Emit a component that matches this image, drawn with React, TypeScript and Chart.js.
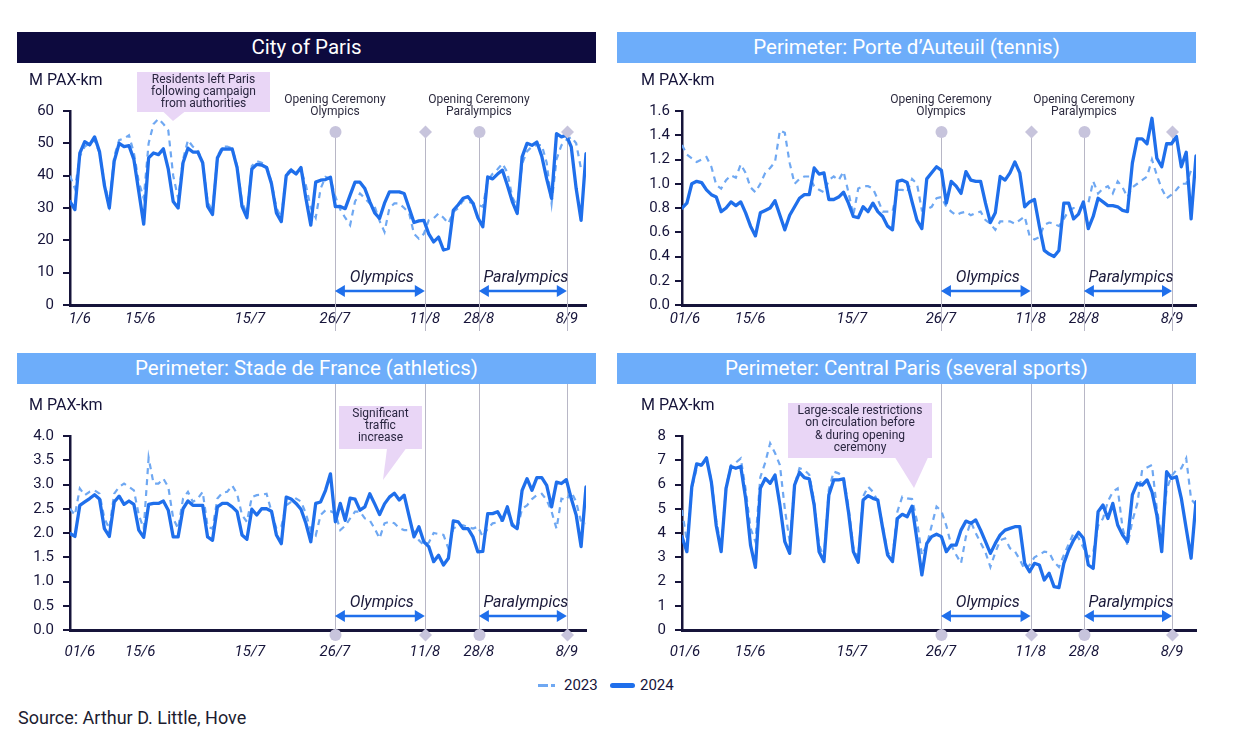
import React, { useEffect, useRef } from 'react';
import { Chart, registerables } from 'chart.js';

Chart.register(...registerables);

const NAVY = '#16143a';
const BLUE = '#1f6feb';
const LIGHT = '#6fa8f2';
const MARK = '#c7c4dc';
const CALLOUT = '#e9d6f6';
const FONT = 'Roboto, "Noto Sans", sans-serif';

// ---- series (daily, 1/6 .. 14/9) ----
const paris2024 = [32, 29.5, 47, 50.5, 49.5, 52, 47.5, 37, 30, 44.5, 50, 49, 49.3, 45, 35, 25, 45.5, 47, 46.5, 48.3, 42, 32, 30, 44, 48.5, 47.3, 47.3, 44, 30.5, 28, 45.5, 48.3, 48.2, 48.3, 42.5, 30.5, 27, 42, 43.5, 43.3, 42.5, 37.5, 28.5, 25.8, 40, 41.7, 40.5, 42.5, 33, 24.7, 38, 38.6, 38.8, 39.5, 30.4, 30.5, 29.8, 34, 38, 38, 36, 32, 28.5, 26.8, 31.5, 35, 35, 35, 34.5, 30, 25.5, 26, 26.2, 22, 19.5, 21, 17, 17.5, 29.3, 31, 33, 33.5, 31.5, 27, 24.2, 39.6, 39, 40.5, 41.7, 37, 32, 28.3, 45.8, 50, 49.4, 50.4, 46, 39, 33, 53, 52, 52.5, 48.9, 36, 26.2, 46.8];
const paris2023 = [40, 36, 46, 49, 50, 51, 47, 38, 31, 46, 51, 51.5, 52.5, 47, 38, 33, 50, 56, 57.6, 56, 54, 40, 33, 45, 51, 49, 48, 44, 32, 29, 46, 49, 49, 48.5, 43, 32, 28, 43, 44.5, 44, 43, 38, 30, 27, 40.5, 42, 41, 42, 37, 30, 27, 36, 39.6, 39, 33.5, 29.5, 27, 24.7, 32, 34.5, 33, 31.4, 30.4, 26, 22.6, 30, 31.4, 31.4, 30, 28.5, 22, 20.5, 22, 26.2, 26.8, 28.3, 27, 25.2, 28.8, 30, 32.4, 32, 31.4, 31, 30.4, 38.6, 40.6, 42, 43.7, 41, 33.4, 30.4, 43.7, 47.5, 49, 49.4, 49.5, 44, 31.4, 45, 49.4, 51, 52, 50, 42, 41];

const auteuil2024 = [0.8, 0.84, 1.0, 1.02, 1.01, 0.95, 0.91, 0.89, 0.77, 0.8, 0.85, 0.82, 0.85, 0.76, 0.65, 0.57, 0.76, 0.78, 0.8, 0.86, 0.74, 0.62, 0.74, 0.81, 0.88, 0.91, 0.91, 1.13, 1.08, 1.09, 0.87, 0.87, 0.89, 0.93, 0.84, 0.73, 0.72, 0.81, 0.77, 0.84, 0.77, 0.73, 0.65, 0.62, 1.02, 1.03, 1.01, 0.85, 0.7, 0.63, 1.04, 1.09, 1.14, 1.11, 0.84, 1.02, 0.98, 0.92, 1.1, 1.03, 1.02, 1.02, 0.84, 0.68, 0.76, 1.06, 1.03, 1.09, 1.18, 1.09, 0.81, 0.85, 0.87, 0.65, 0.45, 0.42, 0.4, 0.45, 0.84, 0.84, 0.71, 0.75, 0.85, 0.63, 0.73, 0.88, 0.85, 0.82, 0.82, 0.81, 0.78, 0.77, 1.17, 1.37, 1.37, 1.33, 1.54, 1.21, 1.14, 1.33, 1.33, 1.39, 1.14, 1.26, 0.71, 1.23];
const auteuil2023 = [1.32, 1.24, 1.21, 1.18, 1.2, 1.22, 1.14, 0.99, 0.96, 1.03, 1.07, 1.05, 1.16, 1.09, 0.97, 0.93, 1.0, 1.09, 1.13, 1.18, 1.44, 1.42, 1.17, 1.0, 1.04, 1.06, 1.06, 0.98, 0.95, 0.93, 1.03, 1.06, 1.03, 1.1, 0.93, 0.74, 0.96, 0.98, 0.98, 0.96, 0.87, 0.77, 0.77, 0.77, 0.95, 0.95, 0.93, 1.04, 1.0, 0.78, 0.79, 0.81, 0.88, 0.89, 0.81, 0.77, 0.74, 0.76, 0.77, 0.74, 0.76, 0.77, 0.7, 0.67, 0.62, 0.69, 0.69, 0.69, 0.67, 0.7, 0.73, 0.57, 0.54, 0.56, 0.66, 0.68, 0.67, 0.65, 0.71, 0.78, 0.8, 0.8, 0.81, 0.84, 1.02, 0.92, 0.96, 0.98, 0.92, 1.02, 0.97, 0.89, 0.97, 1.0, 1.03, 1.06, 1.2, 1.07, 0.96, 0.88, 0.91, 0.95, 1.0, 1.0, 1.11, 1.1];

const stade2024 = [1.99, 1.93, 2.57, 2.64, 2.71, 2.79, 2.7, 2.09, 1.93, 2.64, 2.76, 2.59, 2.66, 2.59, 2.06, 1.91, 2.59, 2.61, 2.61, 2.66, 2.47, 1.92, 1.92, 2.5, 2.66, 2.57, 2.57, 2.57, 1.92, 1.85, 2.54, 2.61, 2.61, 2.54, 2.44, 1.96, 1.87, 2.49, 2.37, 2.5, 2.5, 2.45, 1.96, 1.78, 2.74, 2.7, 2.61, 2.49, 2.2, 1.82, 2.61, 2.64, 2.88, 3.22, 2.23, 2.61, 2.26, 2.72, 2.7, 2.47, 2.54, 2.81, 2.6, 2.38, 2.6, 2.74, 2.82, 2.68, 2.78, 2.35, 1.92, 2.13, 1.82, 1.72, 1.41, 1.54, 1.34, 1.48, 2.25, 2.23, 2.09, 2.09, 1.92, 1.61, 1.62, 2.4, 2.4, 2.44, 2.26, 2.54, 2.16, 2.09, 2.88, 3.12, 2.88, 3.14, 3.14, 2.98, 2.54, 3.05, 3.02, 3.1, 2.71, 2.37, 1.72, 2.95];
const stade2023 = [2.5, 2.37, 2.92, 2.78, 2.85, 2.88, 2.81, 2.3, 2.09, 2.81, 2.95, 3.02, 2.95, 2.88, 2.37, 2.09, 3.55, 3.02, 3.02, 3.12, 2.95, 2.3, 2.09, 2.71, 2.85, 2.64, 2.71, 2.85, 2.13, 2.09, 2.71, 2.83, 2.85, 2.98, 2.81, 2.37, 2.23, 2.74, 2.78, 2.79, 2.81, 2.44, 2.09, 2.13, 2.57, 2.64, 2.71, 2.65, 2.4, 2.05, 1.95, 2.37, 2.47, 2.45, 2.4, 2.06, 2.15, 2.3, 2.44, 2.44, 2.3, 2.26, 2.09, 1.89, 2.2, 2.23, 2.2, 2.1, 2.06, 2.06, 2.03, 1.85, 1.75, 1.8, 2.0, 1.98, 1.96, 1.68, 2.09, 2.16, 2.16, 2.12, 2.09, 2.13, 1.92, 2.09, 2.2, 2.22, 2.26, 2.44, 2.2, 2.09, 2.5, 2.57, 2.7, 2.78, 2.81, 2.68, 2.44, 2.09, 2.71, 2.68, 2.85, 2.64, 2.23, 2.2];

const central2024 = [3.85, 3.23, 5.9, 6.85, 6.8, 7.1, 6.1, 4.3, 3.23, 5.84, 6.74, 6.67, 6.74, 5.43, 3.5, 2.58, 5.84, 6.25, 6.05, 6.39, 5.15, 3.64, 3.16, 5.98, 6.5, 6.28, 6.23, 5.15, 3.23, 2.82, 5.57, 6.19, 6.19, 6.23, 4.88, 3.23, 2.79, 5.36, 5.54, 5.43, 5.36, 4.19, 3.09, 2.82, 4.6, 4.77, 4.67, 5.1, 3.71, 2.27, 3.57, 3.85, 3.95, 3.85, 3.23, 3.5, 3.5, 4.12, 4.49, 4.4, 4.54, 4.12, 3.64, 3.16, 3.57, 3.92, 4.12, 4.19, 4.26, 4.26, 2.75, 2.4, 2.75, 2.68, 2.06, 2.34, 1.79, 1.75, 2.75, 3.3, 3.71, 4.03, 3.78, 2.68, 2.54, 4.88, 5.15, 4.6, 5.22, 4.33, 3.92, 3.64, 5.57, 6.05, 5.98, 6.19, 5.7, 4.74, 3.23, 6.53, 6.25, 6.32, 5.43, 4.19, 2.96, 5.29];
const central2023 = [4.95, 3.64, 5.84, 6.67, 6.8, 7.0, 6.2, 4.5, 3.4, 5.9, 6.8, 6.9, 7.08, 5.8, 4.19, 3.64, 6.3, 6.9, 7.7, 7.3, 6.8, 5.0, 3.64, 6.0, 6.67, 6.6, 6.4, 5.3, 3.5, 3.0, 5.8, 6.53, 6.46, 6.3, 5.1, 3.4, 3.0, 5.5, 5.91, 5.7, 5.3, 4.3, 3.2, 3.0, 4.88, 5.5, 5.43, 5.4, 4.5, 3.09, 3.5, 4.3, 5.09, 4.9, 4.3, 3.5, 3.1, 2.75, 3.85, 4.47, 4.0, 3.6, 3.2, 2.6, 3.2, 3.7, 3.78, 3.37, 3.25, 2.9, 2.5, 2.68, 3.0, 3.1, 3.23, 3.2, 2.8, 2.6, 3.09, 3.55, 4.0, 3.8, 3.4, 3.0, 3.2, 4.3, 4.6, 5.3, 5.7, 5.84, 4.2, 3.5, 4.5, 5.2, 6.6, 6.7, 6.8, 5.0, 3.8, 5.8, 6.35, 6.6, 6.67, 7.08, 5.4, 5.15];

// ---- tick labels and the day-index where each one sits ----
const tickTextParis = ['1/6', '15/6', '15/7', '26/7', '11/8', '28/8', '8/9'];
const tickTextOther = ['01/6', '15/6', '15/7', '26/7', '11/8', '28/8', '8/9'];
const tickIdxLeft = [2, 14.3, 36.6, 53.9, 72.2, 83.2, 101.1];
const tickIdxRight = [0.6, 13.9, 34.7, 52.9, 71.2, 82.1, 100.1];
const eventIdxLeft = [53.9, 72.2, 83.2, 101.1];
const eventIdxRight = [52.9, 71.2, 82.1, 100.1];
const eventShapes = ['circle', 'diamond', 'circle', 'diamond'];

type Callout = { box: number[]; base: number[]; tip: number[]; lines: string[]; ys: number[] };
type Panel = {
  title: string; dark: boolean; left: number; top: number; titleTop: number;
  yMax: number; yStep: number; dec: number; yPad: number;
  d2023: number[]; d2024: number[];
  tickIdx: number[]; tickText: string[]; events: number[];
  markersTop: boolean; yAxisW: number; padRight: number; padTop: number; xAxisH: number; xPad: number;
  callout?: Callout;
};

const panels: Panel[] = [
  {
    title: 'City of Paris', dark: true, left: 17, top: 63, titleTop: 32,
    yMax: 60, yStep: 10, dec: 0, yPad: 9, d2023: paris2023, d2024: paris2024,
    tickIdx: tickIdxLeft, tickText: tickTextParis, events: eventIdxLeft,
    markersTop: true, yAxisW: 53, padRight: 11, padTop: 48, xAxisH: 38, xPad: 5,
    callout: { box: [137, 72, 270, 112], base: [163, 185], tip: [173, 121], lines: ['Residents left Paris', 'following campaign', 'from authorities'], ys: [80, 92, 104] },
  },
  {
    title: 'Perimeter: Porte d\u2019Auteuil (tennis)', dark: false, left: 617, top: 63, titleTop: 32,
    yMax: 1.6, yStep: 0.2, dec: 1, yPad: 5, d2023: auteuil2023, d2024: auteuil2024,
    tickIdx: tickIdxRight, tickText: tickTextOther, events: eventIdxRight,
    markersTop: true, yAxisW: 65, padRight: 1, padTop: 48, xAxisH: 38, xPad: 5,
  },
  {
    title: 'Perimeter: Stade de France (athletics)', dark: false, left: 17, top: 384, titleTop: 353,
    yMax: 4, yStep: 0.5, dec: 1, yPad: 9, d2023: stade2023, d2024: stade2024,
    tickIdx: tickIdxLeft, tickText: tickTextOther, events: eventIdxLeft,
    markersTop: false, yAxisW: 53, padRight: 11, padTop: 52, xAxisH: 34, xPad: 13,
    callout: { box: [339, 406, 422, 449], base: [387, 406], tip: [383, 480], lines: ['Significant', 'traffic', 'increase'], ys: [414, 426, 438] },
  },
  {
    title: 'Perimeter: Central Paris (several sports)', dark: false, left: 617, top: 384, titleTop: 353,
    yMax: 8, yStep: 1, dec: 0, yPad: 9, d2023: central2023, d2024: central2024,
    tickIdx: tickIdxRight, tickText: tickTextOther, events: eventIdxRight,
    markersTop: false, yAxisW: 65, padRight: 1, padTop: 52, xAxisH: 34, xPad: 13,
    callout: { box: [788, 403, 932, 458], base: [895, 928], tip: [914, 488], lines: ['Large-scale restrictions', 'on circulation before', '& during opening', 'ceremony'], ys: [411, 423, 436, 448] },
  },
];

const CW = 580;
const CH = 285;

function drawArrow(ctx: CanvasRenderingContext2D, x0: number, x1: number, y: number) {
  const hl = 10, hw = 6;
  ctx.strokeStyle = BLUE;
  ctx.fillStyle = BLUE;
  ctx.lineWidth = 2.5;
  ctx.beginPath();
  ctx.moveTo(x0 + hl - 1, y);
  ctx.lineTo(x1 - hl + 1, y);
  ctx.stroke();
  ctx.beginPath();
  ctx.moveTo(x0, y);
  ctx.lineTo(x0 + hl, y - hw);
  ctx.lineTo(x0 + hl, y + hw);
  ctx.closePath();
  ctx.fill();
  ctx.beginPath();
  ctx.moveTo(x1, y);
  ctx.lineTo(x1 - hl, y - hw);
  ctx.lineTo(x1 - hl, y + hw);
  ctx.closePath();
  ctx.fill();
}

function PanelChart({ cfg }: { cfg: Panel }) {
  const ref = useRef<HTMLCanvasElement>(null);
  useEffect(() => {
    const annot = {
      id: 'annot',
      beforeDatasetsDraw(chart: any) {
        const { ctx, chartArea: ca } = chart;
        const x = chart.scales.x;
        ctx.save();
        ctx.strokeStyle = '#b8b7c6';
        ctx.lineWidth = 1;
        cfg.events.forEach((idx) => {
          const px = Math.round(x.getPixelForValue(idx)) + 0.5;
          const y0 = cfg.markersTop ? ca.top + 21 : 0;
          const y1 = cfg.markersTop ? ca.bottom + 26 : ca.bottom + 5;
          ctx.beginPath();
          ctx.moveTo(px, y0);
          ctx.lineTo(px, y1);
          ctx.stroke();
        });
        ctx.restore();
      },
      afterDatasetsDraw(chart: any) {
        const { ctx, chartArea: ca } = chart;
        const x = chart.scales.x;
        ctx.save();
        // markers
        const my = cfg.markersTop ? ca.top + 21 : ca.bottom + 5;
        ctx.fillStyle = MARK;
        cfg.events.forEach((idx, k) => {
          const px = Math.round(x.getPixelForValue(idx)) + 0.5;
          ctx.beginPath();
          if (eventShapes[k] === 'circle') {
            ctx.arc(px, my, 6, 0, Math.PI * 2);
          } else {
            ctx.moveTo(px, my - 6.5);
            ctx.lineTo(px + 6.5, my);
            ctx.lineTo(px, my + 6.5);
            ctx.lineTo(px - 6.5, my);
            ctx.closePath();
          }
          ctx.fill();
        });
        // opening-ceremony headers
        if (cfg.markersTop) {
          ctx.fillStyle = '#2d2b3f';
          ctx.font = `12px ${FONT}`;
          ctx.textAlign = 'center';
          ctx.textBaseline = 'middle';
          const p0 = x.getPixelForValue(cfg.events[0]);
          const p2 = x.getPixelForValue(cfg.events[2]);
          ctx.fillText('Opening Ceremony', p0, ca.top - 11);
          ctx.fillText('Olympics', p0, ca.top + 1);
          ctx.fillText('Opening Ceremony', p2, ca.top - 11);
          ctx.fillText('Paralympics', p2, ca.top + 1);
        }
        // arrows
        const e = cfg.events.map((v) => x.getPixelForValue(v));
        drawArrow(ctx, e[0], e[1], ca.bottom - 14);
        drawArrow(ctx, e[2], e[3], ca.bottom - 14);
        ctx.fillStyle = '#1b1a3a';
        ctx.font = `italic 16px ${FONT}`;
        ctx.textAlign = 'center';
        ctx.textBaseline = 'middle';
        ctx.fillText('Olympics', (e[0] + e[1]) / 2 + 2, ca.bottom - 27);
        ctx.fillText('Paralympics', (e[2] + e[3]) / 2 + 3, ca.bottom - 27);
        // y title
        ctx.fillStyle = NAVY;
        ctx.font = `16px ${FONT}`;
        ctx.textAlign = 'left';
        ctx.fillText('M PAX-km', ca.left - 41, ca.top - 30);
        // callout
        const c = cfg.callout;
        if (c) {
          const ox = cfg.left, oy = cfg.top;
          ctx.fillStyle = CALLOUT;
          ctx.fillRect(c.box[0] - ox, c.box[1] - oy, c.box[2] - c.box[0], c.box[3] - c.box[1]);
          ctx.beginPath();
          ctx.moveTo(c.base[0] - ox, c.box[3] - oy - 0.5);
          ctx.lineTo(c.base[1] - ox, c.box[3] - oy - 0.5);
          ctx.lineTo(c.tip[0] - ox, c.tip[1] - oy);
          ctx.closePath();
          ctx.fill();
          ctx.fillStyle = '#2a2640';
          ctx.font = `12px ${FONT}`;
          ctx.textAlign = 'center';
          const cx = (c.box[0] + c.box[2]) / 2 - ox;
          c.lines.forEach((t, i) => ctx.fillText(t, cx, c.ys[i] - oy));
        }
        ctx.restore();
      },
    };

    const chart = new Chart(ref.current as HTMLCanvasElement, {
      type: 'line',
      data: {
        datasets: [
          {
            label: '2024',
            data: cfg.d2024.map((v, i) => ({ x: i, y: v })),
            borderColor: BLUE,
            borderWidth: 3.3,
            pointRadius: 0,
            tension: 0,
            borderJoinStyle: 'round',
            borderCapStyle: 'round',
          },
          {
            label: '2023',
            data: cfg.d2023.map((v, i) => ({ x: i, y: v })),
            borderColor: LIGHT,
            borderWidth: 2.2,
            borderDash: [6, 5],
            pointRadius: 0,
            tension: 0,
          },
        ],
      },
      options: {
        animation: false,
        responsive: false,
        maintainAspectRatio: false,
        devicePixelRatio: 1,
        layout: { autoPadding: false, padding: { left: 0, right: cfg.padRight, top: cfg.padTop, bottom: CH - 280 } },
        plugins: { legend: { display: false }, tooltip: { enabled: false }, title: { display: false } },
        scales: {
          x: {
            type: 'linear',
            min: 0,
            max: 105,
            afterBuildTicks: (s: any) => {
              s.ticks = cfg.tickIdx.map((v) => ({ value: v }));
            },
            afterFit: (s: any) => {
              s.height = cfg.xAxisH;
            },
            ticks: {
              autoSkip: false,
              maxRotation: 0,
              padding: cfg.xPad,
              color: NAVY,
              font: { family: FONT, size: 15, style: 'italic' },
              callback: (_v: any, i: number) => cfg.tickText[i],
            },
            grid: { display: false, drawTicks: false },
            border: { display: true, color: NAVY, width: 3 },
          },
          y: {
            min: 0,
            max: cfg.yMax,
            afterFit: (s: any) => {
              s.width = cfg.yAxisW;
            },
            ticks: {
              stepSize: cfg.yStep,
              padding: cfg.yPad,
              color: NAVY,
              font: { family: FONT, size: 15 },
              callback: (v: any) => Number(v).toFixed(cfg.dec),
            },
            grid: { drawOnChartArea: false, drawTicks: true, tickLength: 7, color: NAVY, lineWidth: 2 },
            border: { display: true, color: NAVY, width: 2.5 },
          },
        },
      },
      plugins: [annot],
    } as any);
    return () => chart.destroy();
  }, [cfg]);
  return (
    <div style={{ position: 'absolute', left: cfg.left, top: cfg.top, width: CW, height: CH }}>
      <canvas ref={ref} width={CW} height={CH} style={{ width: CW, height: CH, display: 'block' }} />
    </div>
  );
}

export default function App() {
  return (
    <div style={{ position: 'absolute', left: 0, top: 0, width: 1234, height: 750, background: '#fff', fontFamily: FONT, overflow: 'hidden' }}>
      {panels.map((p, i) => (
        <div
          key={'t' + i}
          style={{
            position: 'absolute', left: p.left, top: p.titleTop, width: 579, height: 31,
            background: p.dark ? '#0d0a3e' : '#6dadfa', color: '#fff', fontSize: 20.5,
            lineHeight: '31px', textAlign: 'center', fontFamily: FONT, zIndex: 1,
          }}
        >
          {p.title}
        </div>
      ))}
      {panels.map((p, i) => (
        <PanelChart key={'c' + i} cfg={p} />
      ))}
      {/* legend */}
      <div style={{ position: 'absolute', left: 538, top: 684, width: 10, height: 3, background: LIGHT }} />
      <div style={{ position: 'absolute', left: 551, top: 684, width: 4, height: 3, background: LIGHT }} />
      <div style={{ position: 'absolute', left: 564, top: 676, fontSize: 15, lineHeight: '18px', color: NAVY }}>2023</div>
      <div style={{ position: 'absolute', left: 610, top: 683, width: 25, height: 5, borderRadius: 3, background: BLUE }} />
      <div style={{ position: 'absolute', left: 640, top: 676, fontSize: 15, lineHeight: '18px', color: NAVY }}>2024</div>
      <div style={{ position: 'absolute', left: 18, top: 707, fontSize: 18, lineHeight: '22px', color: '#1c1c30' }}>
        Source: Arthur D. Little, Hove
      </div>
    </div>
  );
}
